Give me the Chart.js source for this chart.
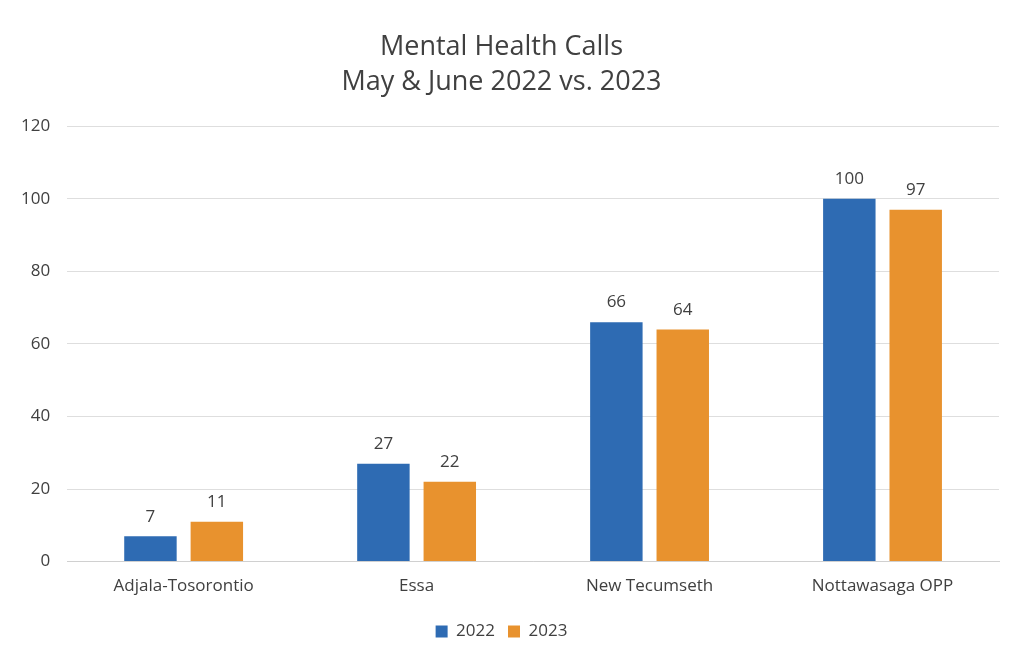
<!DOCTYPE html>
<html>
<head>
<meta charset="utf-8">
<script src="https://cdn.jsdelivr.net/npm/chart.js@4"></script>
<style>
  html, body { margin: 0; padding: 0; background: #fff; }
  #wrap { width: 1015px; height: 660px; position: relative; }
</style>
</head>
<body>
<div id="wrap"><canvas id="myChart" width="1015" height="660"></canvas></div>
<script>
const regions = ['Adjala-Tosorontio', 'Essa', 'New Tecumseth', 'Nottawasaga OPP'];
const calls2022 = [7, 27, 66, 100];
const calls2023 = [11, 22, 64, 97];
const titleLines = ['Mental Health Calls', 'May & June 2022 vs. 2023'];

const FONT = '"Open Sans", sans-serif';

// draws the number above each bar
const valueLabels = {
    id: 'valueLabels',
    afterDatasetsDraw(chart) {
        const ctx = chart.ctx;
        ctx.save();
        ctx.font = '17px ' + FONT;
        ctx.fillStyle = '#404040';
        ctx.textAlign = 'center';
        ctx.textBaseline = 'bottom';
        chart.data.datasets.forEach((ds, i) => {
            chart.getDatasetMeta(i).data.forEach((bar, j) => {
                ctx.fillText(ds.data[j], bar.x, bar.y - 11);
            });
        });
        ctx.restore();
    }
};

const ctx = document.getElementById('myChart').getContext('2d');
const myChart = new Chart(ctx, {
    type: 'bar',
    data: {
        labels: regions,
        datasets: [
            { label: '2022', data: calls2022, backgroundColor: '#2e6bb3' },
            { label: '2023', data: calls2023, backgroundColor: '#e8922e' }
        ]
    },
    options: {
        responsive: false,
        animation: false,
        layout: { padding: { left: 4, right: 16, top: 14, bottom: 10 } },
        datasets: {
            bar: { categoryPercentage: 0.57, barPercentage: 0.79 }
        },
        plugins: {
            title: {
                display: true,
                text: titleLines,
                color: '#404040',
                font: { family: FONT, size: 27, weight: 'normal', lineHeight: 1.3 },
                padding: { top: 16, bottom: 26 }
            },
            legend: {
                position: 'bottom',
                labels: {
                    color: '#404040',
                    font: { family: FONT, size: 17 },
                    boxWidth: 12,
                    boxHeight: 12,
                    padding: 13
                }
            },
            tooltip: { enabled: false }
        },
        scales: {
            x: {
                grid: { display: false, drawTicks: false },
                border: { color: '#d0d0d0' },
                ticks: { color: '#404040', font: { family: FONT, size: 17 }, padding: 14 }
            },
            y: {
                min: 0,
                max: 120,
                ticks: { stepSize: 20, color: '#404040', font: { family: FONT, size: 17 }, padding: 17 },
                grid: { color: '#dedede', drawTicks: false },
                border: { display: false }
            }
        }
    },
    plugins: [valueLabels]
});
</script>
</body>
</html>
